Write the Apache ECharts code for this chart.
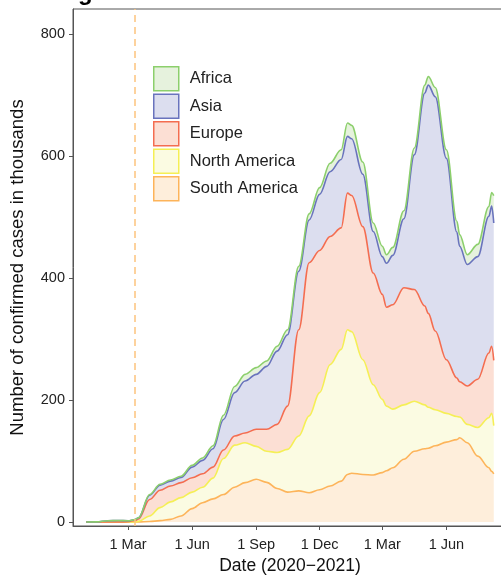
<!DOCTYPE html>
<html>
<head>
<meta charset="utf-8">
<script src="https://cdn.jsdelivr.net/npm/echarts@6/dist/echarts.min.js"></script>
<style>
html, body { margin: 0; padding: 0; background: #fff; }
#chart { width: 501px; height: 575px; }
</style>
</head>
<body>
<div id="chart"></div>
<script>
// daily confirmed cases, thousands
const dates = [
  '2020-01-01', '2020-01-16', '2020-02-01', '2020-02-16', '2020-03-01', '2020-03-11',
  '2020-03-16', '2020-04-01', '2020-04-16', '2020-05-01', '2020-05-16', '2020-06-01',
  '2020-06-16', '2020-07-01', '2020-07-16', '2020-08-01', '2020-08-16', '2020-09-01',
  '2020-09-16', '2020-10-01', '2020-10-16', '2020-11-01', '2020-11-16', '2020-12-01',
  '2020-12-16', '2021-01-01', '2021-01-10', '2021-01-16', '2021-02-01', '2021-02-16',
  '2021-03-01', '2021-03-07', '2021-03-16', '2021-04-01', '2021-04-16', '2021-05-01',
  '2021-05-06', '2021-05-16', '2021-06-01', '2021-06-16', '2021-06-20', '2021-07-01',
  '2021-07-16', '2021-08-01', '2021-08-05', '2021-08-08'
];
const southAmerica = [
  0, 0, 0, 0, 0, 0,
  0.2, 0.8, 2.3, 4.4, 10, 22,
  31.7, 38, 45, 57, 64.5, 70,
  65, 55, 49, 51, 48, 53,
  59, 67, 78, 80, 78, 77,
  81, 84, 89, 103, 116, 120,
  121, 125, 131, 135, 138, 130,
  108, 89, 83, 79
];
const northAmerica = [
  0, 0, 0, 0, 0.1, 0.3,
  0.8, 9.2, 21.3, 28.6, 30, 27,
  25.3, 34, 59, 69, 65.5, 54,
  51, 59, 70, 90, 126, 159,
  199, 216, 237, 232, 188, 148,
  120, 106, 96, 89, 82, 72,
  67, 59, 47, 38, 34, 30,
  47, 82, 95, 79
];
const europe = [
  0, 0, 0, 0, 0.5, 2.2,
  4, 27, 28.4, 26, 24.5, 23.6,
  22, 18, 14, 15, 16, 28,
  36, 46, 71, 174, 251, 233,
  210, 199, 224, 223, 218, 183,
  172, 162, 171, 192, 183, 162,
  154, 129, 88, 63, 58, 63,
  79, 106, 110, 107
];
const asia = [
  0, 0.3, 2, 2.5, 1.5, 1.5,
  2, 7, 8.5, 8, 8.5, 17.4,
  22, 30, 50, 71, 85, 90,
  103, 120, 117, 96, 70, 92,
  106, 112, 93, 93, 86, 68,
  62, 72, 81, 113, 221, 349,
  374, 384, 330, 239, 222, 199,
  201, 224, 230, 225
];
const africa = [
  0, 0, 0, 0, 0, 0,
  0.1, 1, 1.5, 2, 2, 3,
  4, 5, 7, 10, 11, 11,
  9, 8, 8, 8, 10, 11,
  14, 16, 22, 22, 20, 14,
  17, 14, 13, 13, 11, 13,
  14, 15, 14, 18, 19, 16,
  20, 16, 22, 45
];

const xTicks = ['2020-03-01', '2020-06-01', '2020-09-01', '2020-12-01', '2021-03-01', '2021-06-01'];
const yTicks = [0, 200, 400, 600, 800];
const pandemicDate = '2020-03-11';
const monthNames = ['Jan', 'Feb', 'Mar', 'Apr', 'May', 'Jun', 'Jul', 'Aug', 'Sep', 'Oct', 'Nov', 'Dec'];

function ts(s) { return new Date(s + 'T00:00:00').getTime(); }

const continents = [
  { name: 'South America', data: southAmerica, line: '#fdb45a', fill: '#feeedb' },
  { name: 'North America', data: northAmerica, line: '#f5ef55', fill: '#fbfbe2' },
  { name: 'Europe', data: europe, line: '#f46d50', fill: '#fcdfd4' },
  { name: 'Asia', data: asia, line: '#6973bd', fill: '#dcdeef' },
  { name: 'Africa', data: africa, line: '#8ccf6c', fill: '#e6f2dd' }
];
const legendOrder = ['Africa', 'Asia', 'Europe', 'North America', 'South America'];

const font = 'Liberation Sans, Arial, sans-serif';
const chart = echarts.init(document.getElementById('chart'));

const series = continents.map(c => ({
  type: 'line',
  name: c.name,
  stack: 'total',
  // cases first so echarts stacks on them, not on the date
  encode: { x: 1, y: 0 },
  data: dates.map((d, i) => [c.data[i], ts(d)]),
  symbol: 'none',
  smooth: 0.35,
  smoothMonotone: 'x',
  silent: true,
  lineStyle: { color: c.line, width: 1.6 },
  itemStyle: { color: c.line },
  areaStyle: { color: c.fill, opacity: 1 },
  emphasis: { disabled: true }
}));
series[series.length - 1].markLine = {
  silent: true,
  symbol: 'none',
  label: { show: false },
  lineStyle: { color: '#fdc47e', type: [7, 5], width: 1.5 },
  data: [{ xAxis: ts(pandemicDate) }]
};

chart.setOption({
  animation: false,
  backgroundColor: '#fff',
  textStyle: { fontFamily: font },
  title: {
    text: 'g', left: 73, top: -24,
    textStyle: { fontSize: 24, fontWeight: 'bold', color: '#000', fontFamily: font }
  },
  grid: {
    left: 73, top: 9, right: -6, bottom: 49, outerBoundsMode: 'none',
    show: true, borderColor: '#555', borderWidth: 1
  },
  legend: {
    orient: 'vertical', left: 153, top: 66, padding: 0,
    itemWidth: 25, itemHeight: 24, itemGap: 2,
    icon: 'rect', selectedMode: false,
    textStyle: { fontSize: 16.5, color: '#222', padding: [0, 0, 0, 6] },
    data: legendOrder.map(n => {
      const c = continents.find(x => x.name === n);
      return { name: n, itemStyle: { color: c.fill, borderColor: c.line, borderWidth: 1.5 } };
    })
  },
  xAxis: {
    type: 'value',
    min: ts('2019-12-13'), max: ts('2021-08-27'),
    axisLine: { show: true, onZero: false, lineStyle: { color: '#555', width: 1 } },
    axisTick: { show: true, customValues: xTicks.map(ts), length: 4, lineStyle: { color: '#555' } },
    axisLabel: {
      customValues: xTicks.map(ts), fontSize: 14.5, color: '#222', margin: 11,
      formatter: v => { const d = new Date(v); return d.getDate() + ' ' + monthNames[d.getMonth()]; }
    },
    splitLine: { show: false },
    name: 'Date (2020\u22122021)', nameLocation: 'middle', nameGap: 31,
    nameTextStyle: { fontSize: 17.5, color: '#111' }
  },
  yAxis: {
    type: 'value', min: -6.5, max: 840.7,
    axisLine: { show: true, onZero: false, lineStyle: { color: '#555', width: 1 } },
    axisTick: { show: true, customValues: yTicks, length: 4, lineStyle: { color: '#555' } },
    axisLabel: { customValues: yTicks, fontSize: 14.5, color: '#222', margin: 8 },
    splitLine: { show: false },
    name: 'Number of confirmed cases in thousands', nameLocation: 'middle', nameGap: 46,
    nameTextStyle: { fontSize: 18.5, color: '#111' }
  },
  series: series
});
</script>
</body>
</html>
